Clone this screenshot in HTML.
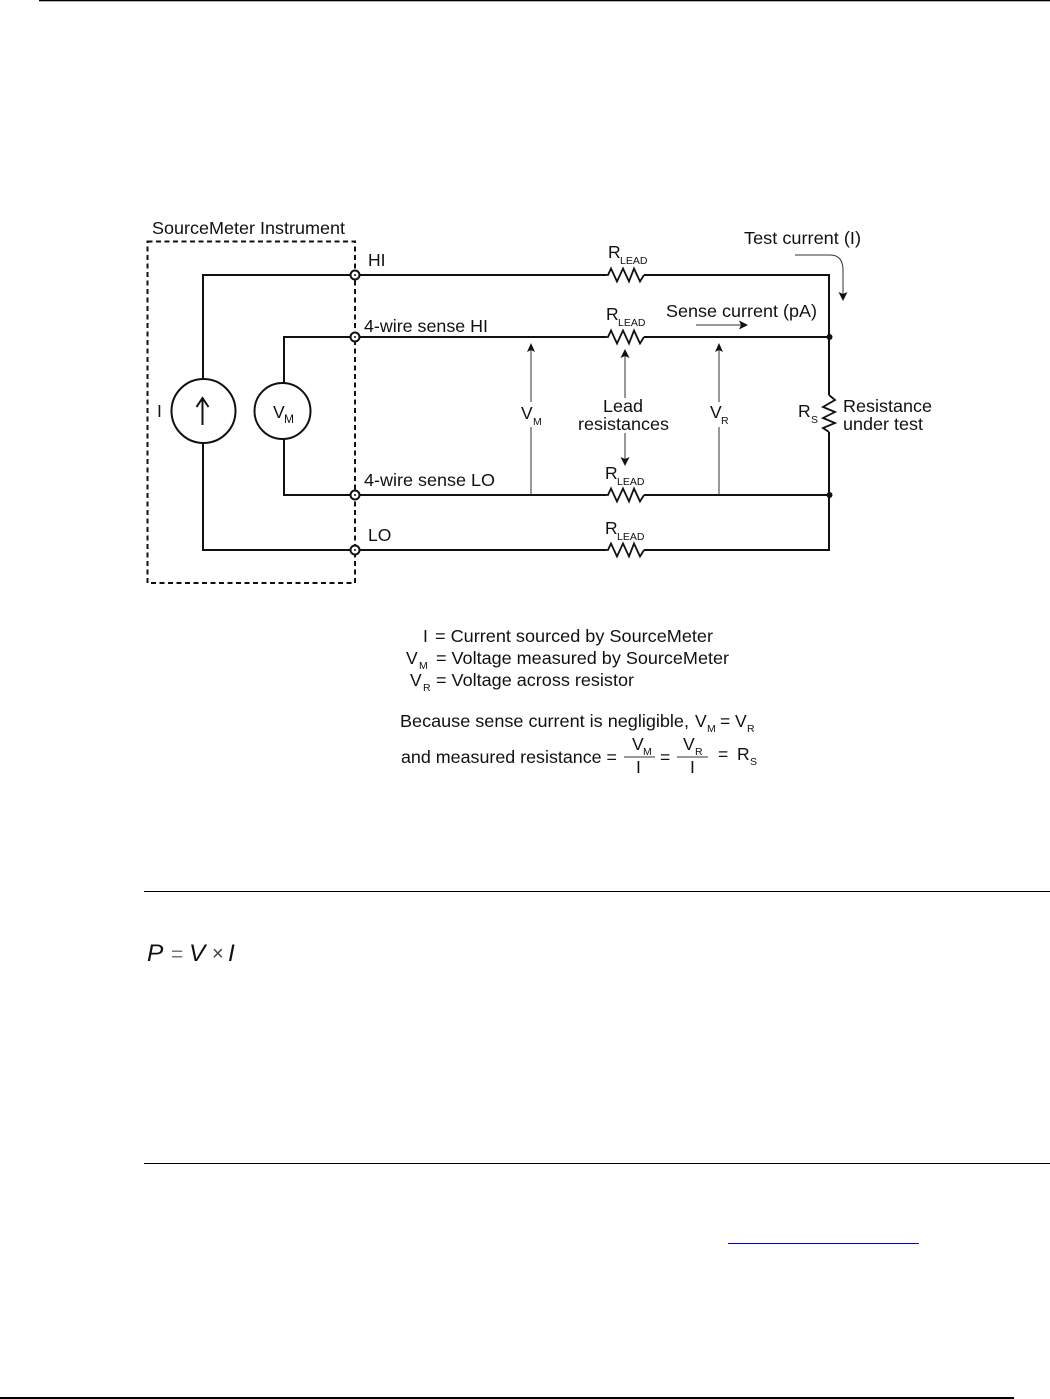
<!DOCTYPE html>
<html>
<head>
<meta charset="utf-8">
<style>
html,body{margin:0;padding:0;background:#fff;width:1050px;height:1399px;overflow:hidden}
svg{display:block}
text{font-family:"Liberation Sans",Arial,sans-serif;fill:#111}
.t{font-size:17.5px}
.s{font-size:10.5px}
.w{fill:none;stroke:#111;stroke-width:2}
.z{fill:none;stroke:#111;stroke-width:1.8}
.a{fill:none;stroke:#333;stroke-width:1}
.h{fill:#111;stroke:none}
</style>
</head>
<body>
<svg width="1050" height="1399" viewBox="0 0 1050 1399" xmlns="http://www.w3.org/2000/svg">
<defs>
<path id="res" d="M0 0L2 0L5 -6.500L11 6.500L17 -6.500L23 6.500L28 -6.500L34 6.500L38 0"/>
</defs>

<!-- page rules -->
<rect x="39" y="0" width="1011" height="1.300" fill="#000"/>
<rect x="144" y="891" width="906" height="1" fill="#000"/>
<rect x="144" y="1163" width="906" height="1" fill="#000"/>
<rect x="728" y="1243" width="191" height="1" fill="#0000e0"/>
<rect x="0" y="1397" width="1014" height="2" fill="#000"/>

<!-- instrument box -->
<rect x="147.500" y="241.500" width="207.500" height="341.500" fill="none" stroke="#111" stroke-width="2" stroke-dasharray="5 3.500"/>

<!-- wires -->
<path class="w" d="M203 379V275H606M644 275H829V395M829 432V550H644M606 550H203V443"/>
<path class="w" d="M284 383V337H606M644 337H829"/>
<path class="w" d="M284 439V495H606M644 495H829"/>
<g class="z">
<use href="#res" x="606" y="275"/>
<use href="#res" x="606" y="337"/>
<use href="#res" x="606" y="495"/>
<use href="#res" x="606" y="550"/>
</g>
<path class="z" d="M829 395L835 400L823 407L835 412L823 418L835 423L823 428L829 432"/>
<circle cx="829.500" cy="337" r="3" fill="#111"/>
<circle cx="829.500" cy="495" r="3" fill="#111"/>

<!-- sources -->
<circle cx="203.500" cy="411" r="32" fill="#fff" stroke="#111" stroke-width="2"/>
<circle cx="282.500" cy="411" r="28" fill="#fff" stroke="#111" stroke-width="2"/>
<path d="M202.500 425V398" stroke="#111" stroke-width="2" fill="none"/>
<path d="M196.500 407L202.500 398L208.500 407" stroke="#111" stroke-width="2" fill="none"/>

<!-- terminals -->
<g fill="#fff" stroke="#111" stroke-width="2">
<circle cx="355" cy="275" r="4.500"/>
<circle cx="355" cy="337" r="4.500"/>
<circle cx="355" cy="495" r="4.500"/>
<circle cx="355" cy="550" r="4.500"/>
</g>
<g fill="#111">
<circle cx="355" cy="275" r="1"/>
<circle cx="355" cy="337" r="1"/>
<circle cx="355" cy="495" r="1"/>
<circle cx="355" cy="550" r="1"/>
</g>

<!-- arrows -->
<path class="a" d="M531 495V427M531 402V345"/>
<path class="h" d="M531 343L535 352L531 350L527 352Z"/>
<path class="a" d="M719 495V427M719 402V345"/>
<path class="h" d="M719 343L723 352L719 350L715 352Z"/>
<path class="a" d="M625 398V351"/>
<path class="h" d="M625 349L629.500 358L625 356L620.500 358Z"/>
<path class="a" d="M625 433V464"/>
<path class="h" d="M625 466L629.500 457L625 459L620.500 457Z"/>
<path class="a" d="M696 325H746"/>
<path class="h" d="M748 325L739 320.500L741 325L739 329.500Z"/>
<path class="a" d="M795 255H830Q843 255 843 270V298"/>
<path class="h" d="M843 301L838.500 292L843 294L847.500 292Z"/>

<!-- diagram labels -->
<text class="t" x="152" y="234" textLength="193" lengthAdjust="spacingAndGlyphs">SourceMeter Instrument</text>
<text class="t" x="368" y="266">HI</text>
<text class="t" x="364" y="332" textLength="124" lengthAdjust="spacingAndGlyphs">4-wire sense HI</text>
<text class="t" x="364" y="486" textLength="131" lengthAdjust="spacingAndGlyphs">4-wire sense LO</text>
<text class="t" x="368" y="541">LO</text>
<text class="t" x="157" y="417">I</text>
<text x="273" y="418" style="font-size:17.5px">V</text><text x="284" y="423" style="font-size:12px">M</text>

<text class="t" x="608" y="258">R</text><text class="s" x="620" y="264">LEAD</text>
<text class="t" x="606" y="320">R</text><text class="s" x="618" y="326">LEAD</text>
<text class="t" x="605" y="479">R</text><text class="s" x="617" y="485">LEAD</text>
<text class="t" x="605" y="534">R</text><text class="s" x="617" y="540">LEAD</text>

<text class="t" x="744" y="244" textLength="117" lengthAdjust="spacingAndGlyphs">Test current (I)</text>
<text class="t" x="666" y="317" textLength="151" lengthAdjust="spacingAndGlyphs">Sense current (pA)</text>
<text class="t" x="603" y="412" textLength="40" lengthAdjust="spacingAndGlyphs">Lead</text>
<text class="t" x="578" y="430" textLength="91" lengthAdjust="spacingAndGlyphs">resistances</text>
<text class="t" x="521" y="419">V</text><text class="s" x="533" y="425">M</text>
<text class="t" x="710" y="418">V</text><text class="s" x="721" y="424">R</text>
<text class="t" x="798" y="417">R</text><text class="s" x="811" y="423">S</text>
<text class="t" x="843" y="412" textLength="89" lengthAdjust="spacingAndGlyphs">Resistance</text>
<text class="t" x="843" y="430" textLength="80" lengthAdjust="spacingAndGlyphs">under test</text>

<!-- legend -->
<text class="t" x="423" y="642">I</text>
<text class="t" x="435" y="642" textLength="278" lengthAdjust="spacingAndGlyphs">= Current sourced by SourceMeter</text>
<text class="t" x="406" y="664">V</text><text class="s" x="419" y="669">M</text>
<text class="t" x="436" y="664" textLength="293" lengthAdjust="spacingAndGlyphs">= Voltage measured by SourceMeter</text>
<text class="t" x="410" y="686">V</text><text class="s" x="423" y="691">R</text>
<text class="t" x="436" y="686" textLength="198" lengthAdjust="spacingAndGlyphs">= Voltage across resistor</text>

<text class="t" x="400" y="727" textLength="289" lengthAdjust="spacingAndGlyphs">Because sense current is negligible,</text>
<text class="t" x="695" y="727">V</text><text class="s" x="707" y="732">M</text>
<text class="t" x="720" y="727">=</text>
<text class="t" x="735" y="727">V</text><text class="s" x="747" y="732">R</text>

<text class="t" x="401" y="763" textLength="216" lengthAdjust="spacingAndGlyphs">and measured resistance =</text>
<text class="t" x="632" y="750">V</text><text class="s" x="643" y="755">M</text>
<rect x="624" y="756.500" width="31" height="1" fill="#333"/>
<text class="t" x="636" y="773">I</text>
<text class="t" x="660" y="763">=</text>
<text class="t" x="683" y="750">V</text><text class="s" x="695" y="755">R</text>
<rect x="677" y="756.500" width="31" height="1" fill="#333"/>
<text class="t" x="690" y="773">I</text>
<text class="t" x="718" y="760">=</text>
<text class="t" x="737" y="760">R</text><text class="s" x="750" y="765">S</text>

<!-- power equation -->
<text x="147" y="961" style="font-size:24.500px;font-style:italic">P</text>
<text x="171" y="961" style="font-size:21px;fill:#777">=</text>
<text x="189" y="961" style="font-size:24.500px;font-style:italic">V</text>
<text x="212" y="960" style="font-size:20px;fill:#444">×</text>
<text x="228" y="961" style="font-size:24.500px;font-style:italic">I</text>
</svg>
</body>
</html>
